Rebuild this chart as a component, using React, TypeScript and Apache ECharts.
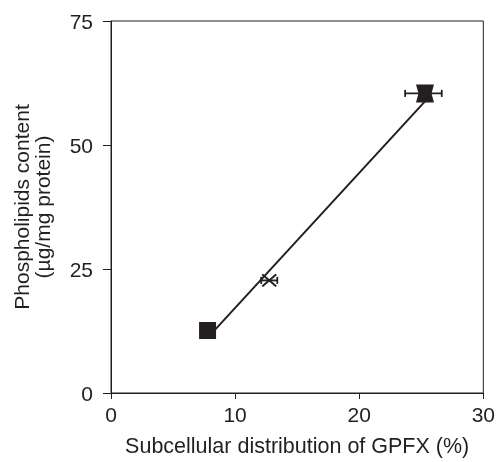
import React, { useEffect, useRef } from "react";
import * as echarts from "echarts";

const xTicks = [0, 10, 20, 30];
const yTicks = [0, 25, 50, 75];
const squareX = [7.78];
const squareY = [12.6];
const crossX = [12.75];
const crossY = [22.7];
const topX = [25.3];
const topY = [60.4];
const errY = [22.7, 60.4];
const errLow = [12.1, 23.7];
const errHigh = [13.4, 26.65];
const fitX = [7.78, 25.3];
const fitY = [11.1, 58.8];

const INK = "#231f20";
const FONT = "Liberation Sans";

export default function App() {
  const ref = useRef<HTMLDivElement>(null);
  useEffect(() => {
    if (!ref.current) return;
    const chart = echarts.init(ref.current, null, { renderer: "svg" });
    const errData = errY.map((y, i) => [errLow[i], errHigh[i], y]);
    chart.setOption({
      animation: false,
      textStyle: { fontFamily: FONT },
      grid: {
        left: 111, right: 13, top: 21, bottom: 67,
        show: true, borderColor: INK, borderWidth: 1,
      },
      xAxis: {
        type: "value", min: xTicks[0], max: xTicks[xTicks.length - 1], interval: 10,
        name: "Subcellular distribution of GPFX (%)",
        nameLocation: "middle", nameGap: 42,
        nameTextStyle: { fontSize: 21.5, color: INK, fontFamily: FONT },
        axisLine: { show: true, lineStyle: { color: INK, width: 1 } },
        axisTick: { show: true, length: 6, lineStyle: { color: INK } },
        axisLabel: { fontSize: 21, color: INK, margin: 11, fontFamily: FONT },
        splitLine: { show: false },
      },
      yAxis: {
        type: "value", min: yTicks[0], max: yTicks[yTicks.length - 1], interval: 25,
        name: "Phospholipids content\n(µg/mg protein)",
        nameLocation: "middle", nameGap: 58, nameRotate: 90,
        nameTextStyle: { fontSize: 21, color: INK, lineHeight: 21, fontFamily: FONT },
        axisLine: { show: true, lineStyle: { color: INK, width: 1 } },
        axisTick: { show: true, length: 8, lineStyle: { color: INK } },
        axisLabel: { fontSize: 21, color: INK, margin: 18, fontFamily: FONT },
        splitLine: { show: false },
      },
      series: [
        {
          type: "line",
          data: fitX.map((x, i) => [x, fitY[i]]),
          symbol: "none",
          lineStyle: { color: INK, width: 2 },
          z: 2,
        },
        {
          type: "custom",
          data: errData,
          renderItem: (params: any, api: any) => {
            const lo = api.coord([api.value(0), api.value(2)]);
            const hi = api.coord([api.value(1), api.value(2)]);
            const cap = 3.5;
            const style = { stroke: INK, lineWidth: 1.8 };
            return {
              type: "group",
              children: [
                { type: "line", shape: { x1: lo[0], y1: lo[1], x2: hi[0], y2: hi[1] }, style },
                { type: "line", shape: { x1: lo[0], y1: lo[1] - cap, x2: lo[0], y2: lo[1] + cap }, style },
                { type: "line", shape: { x1: hi[0], y1: hi[1] - cap, x2: hi[0], y2: hi[1] + cap }, style },
              ],
            };
          },
          z: 3,
        },
        {
          type: "scatter",
          data: squareX.map((x, i) => [x, squareY[i]]),
          symbol: "rect",
          symbolSize: 17,
          itemStyle: { color: INK, opacity: 1 },
          z: 4,
        },
        {
          type: "scatter",
          data: topX.map((x, i) => [x, topY[i]]),
          symbol: "path://M0,0 L18,0 L15.5,9 L18,18 L0,18 L2.5,9 Z",
          symbolSize: [18, 18],
          itemStyle: { color: INK, opacity: 1 },
          z: 4,
        },
        {
          type: "scatter",
          data: crossX.map((x, i) => [x, crossY[i]]),
          symbol: "path://M0,0 L14,12 M0,12 L14,0",
          symbolSize: [14, 12],
          itemStyle: { color: "none", borderColor: INK, borderWidth: 2, opacity: 1 },
          z: 4,
        },
      ],
    });
    return () => chart.dispose();
  }, []);
  return (
    <div
      ref={ref}
      style={{ width: 498, height: 462, position: "fixed", left: 0, top: 0 }}
    />
  );
}
